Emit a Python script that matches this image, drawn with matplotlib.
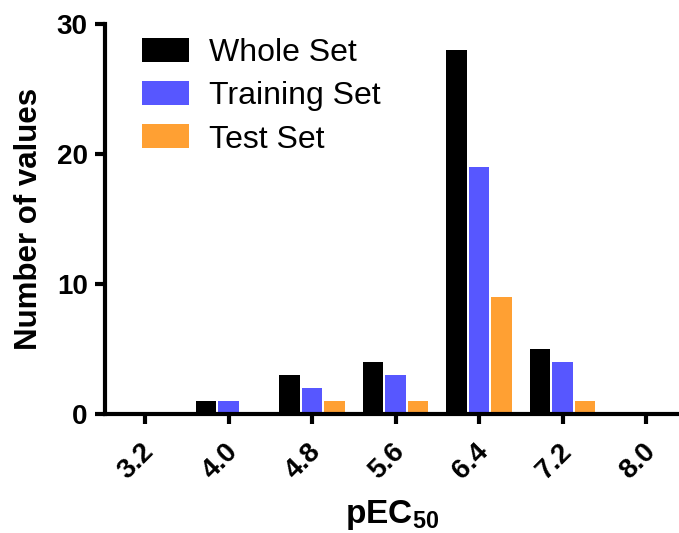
import numpy as np
import matplotlib
matplotlib.use('Agg')
import matplotlib.pyplot as plt
from matplotlib.transforms import ScaledTranslation

plt.rcParams['font.family'] = ['Liberation Sans', 'DejaVu Sans']
plt.rcParams['mathtext.fontset'] = 'custom'
plt.rcParams['mathtext.rm'] = 'Liberation Sans:bold'
plt.rcParams['mathtext.bf'] = 'Liberation Sans:bold'

# Datos
bins = ['3.2', '4.0', '4.8', '5.6', '6.4', '7.2', '8.0']
whole_set = [0, 1, 3, 4, 28, 5, 0]
training_set = [0, 1, 2, 3, 19, 4, 0]
test_set = [0, 0, 1, 1, 9, 1, 0]

series = [('Whole Set', whole_set, '#000000'),
          ('Training Set', training_set, '#5757FF'),
          ('Test Set', test_set, '#FFA033')]

fig = plt.figure(figsize=(6.79, 5.33), dpi=100)
ax = fig.add_axes([105/679, 1 - 414/533, 1 - 105/679, 390/533])

x = np.arange(len(bins))
ancho = 0.245
paso = 0.27
for i, (nombre, valores, color) in enumerate(series):
    ax.bar(x + (i - 1) * paso, valores, width=ancho, color=color,
           label=nombre, zorder=2)

ax.set_xlim(-0.479, 6.395)
ax.set_ylim(0, 30)
ax.set_yticks([0, 10, 20, 30])
ax.set_xticks(x)
ax.set_xticklabels(bins, rotation=45, ha='right', rotation_mode='anchor')

for s in ['top', 'right']:
    ax.spines[s].set_visible(False)
for s in ['left', 'bottom']:
    ax.spines[s].set_linewidth(3.0)
    ax.spines[s].set_zorder(3)
ax.spines['left'].set_bounds(0, 30)

ax.tick_params(axis='both', length=7.5, width=3.0, labelsize=20, pad=5)
ax.tick_params(axis='x', pad=10)
desplaza = ScaledTranslation(-4/100, 0, fig.dpi_scale_trans)
for lbl in ax.get_xticklabels():
    lbl.set_fontweight('bold')
    lbl.set_transform(lbl.get_transform() + desplaza)
for lbl in ax.get_yticklabels():
    lbl.set_fontweight('bold')

ax.set_ylabel('Number of values', fontsize=22.5, fontweight='bold', labelpad=9)
ax.set_xlabel(r'$\mathbf{pEC_{50}}$', fontsize=24, labelpad=10)

ax.legend(loc='upper left', bbox_to_anchor=(142/679, 1 - 38/533),
          bbox_transform=fig.transFigure, frameon=False, fontsize=23,
          handlelength=1.47, handleheight=0.78, handletextpad=0.62,
          labelspacing=0.41, borderpad=0, borderaxespad=0)

fig.savefig('out.png', dpi=100, facecolor='white')
